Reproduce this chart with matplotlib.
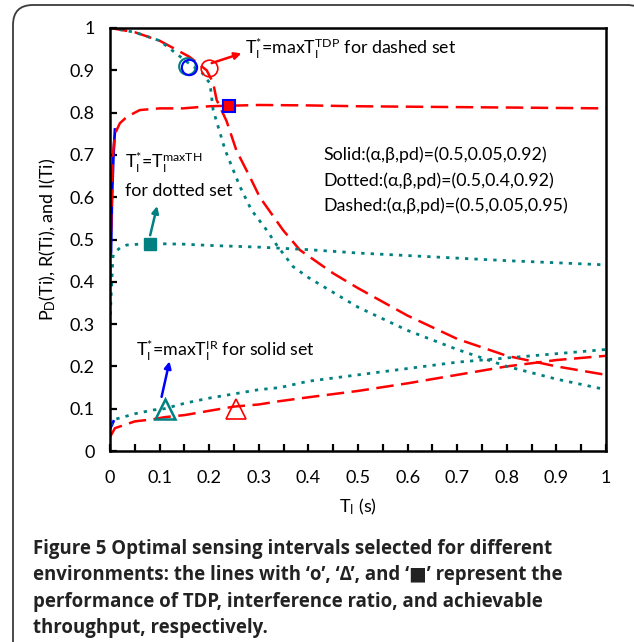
import numpy as np
import matplotlib
matplotlib.use("Agg")
import matplotlib.pyplot as plt
from matplotlib.path import Path
from matplotlib.patches import PathPatch

plt.rcParams["font.family"] = ["Lato", "DejaVu Sans"]
plt.rcParams["mathtext.fontset"] = "custom"
plt.rcParams["mathtext.rm"] = "Lato"
plt.rcParams["mathtext.it"] = "Lato"
plt.rcParams["mathtext.bf"] = "Lato:bold"

RED = "#ff0000"
TEAL = "#008080"
BLUE = "#0000ff"

# TDP curves, P_D(T_I)
t_tdp_dash = [0, 0.05, 0.1, 0.16, 0.195, 0.208, 0.215, 0.235, 0.255, 0.282, 0.302,
              0.349, 0.383, 0.45, 0.5, 0.6, 0.7, 0.8, 0.9, 1.0]
pd_tdp_dash = [1.0, 0.99, 0.97, 0.932, 0.90, 0.87, 0.83, 0.78, 0.71, 0.648, 0.60,
               0.522, 0.475, 0.42, 0.385, 0.32, 0.265, 0.225, 0.20, 0.18]
t_tdp_dot = [0, 0.05, 0.1, 0.155, 0.185, 0.2016, 0.208, 0.232, 0.262, 0.285, 0.316,
             0.336, 0.369, 0.4, 0.5, 0.6, 0.7, 0.8, 0.9, 1.0]
pd_tdp_dot = [1.0, 0.99, 0.97, 0.92, 0.895, 0.869, 0.806, 0.712, 0.625, 0.57, 0.522,
              0.487, 0.436, 0.41, 0.34, 0.285, 0.24, 0.20, 0.17, 0.145]

# throughput curves, R(T_I)
t_th = [0, 0.002, 0.006, 0.01, 0.02, 0.034, 0.06, 0.1, 0.147, 0.2, 0.3, 0.4, 0.5,
        0.6, 0.7, 0.8, 0.9, 1.0]
r_th_dash = [0.40, 0.52, 0.70, 0.75, 0.775, 0.79, 0.806, 0.81, 0.81, 0.815, 0.818,
             0.817, 0.815, 0.814, 0.813, 0.812, 0.811, 0.81]
r_th_dot = [0.30, 0.36, 0.46, 0.47, 0.48, 0.487, 0.489, 0.49, 0.489, 0.486, 0.482,
            0.476, 0.468, 0.462, 0.456, 0.45, 0.445, 0.44]
t_th_solid = [0.002, 0.004, 0.007, 0.01]
r_th_solid = [0.47, 0.60, 0.70, 0.76]

# interference ratio curves, I(T_I)
t_ir = [0, 0.01, 0.02, 0.05, 0.087, 0.11, 0.151, 0.2, 0.25, 0.3, 0.343, 0.4, 0.5,
        0.6, 0.7, 0.8, 0.9, 1.0]
i_ir_dash = [0.033, 0.054, 0.058, 0.07, 0.075, 0.08, 0.085, 0.095, 0.105, 0.11, 0.118,
             0.127, 0.142, 0.16, 0.18, 0.20, 0.215, 0.225]
i_ir_dot = [0.06, 0.075, 0.078, 0.088, 0.097, 0.10, 0.113, 0.125, 0.135, 0.145, 0.15,
            0.165, 0.18, 0.195, 0.21, 0.22, 0.23, 0.24]
t_ir_solid = [0.001, 0.004, 0.007]
i_ir_solid = [0.055, 0.062, 0.07]

# selected operating points
opt_tdp = {"solid": (0.16, 0.908), "dotted": (0.155, 0.91), "dashed": (0.2, 0.905)}
opt_th = {"solid": (0.24, 0.815), "dotted": (0.08, 0.49)}
opt_ir = {"dotted": (0.11, 0.10), "dashed": (0.255, 0.10)}

fig = plt.figure(figsize=(6.34, 6.42), dpi=100)
W, H = 634., 642.

# open frame: left edge, rounded top-left corner, top edge, top-right corner off the page
r = 0.2
x0, x1, y1 = 0.13, 6.47, 6.37
verts = [(x0, -0.2), (x0, y1 - r), (x0, y1), (x0 + r, y1),
         (x1 - r, y1), (x1, y1), (x1, y1 - r)]
codes = [Path.MOVETO, Path.LINETO, Path.CURVE3, Path.CURVE3,
         Path.LINETO, Path.CURVE3, Path.CURVE3]
fig.add_artist(PathPatch(Path(verts, codes), transform=fig.dpi_scale_trans,
                         facecolor="none", edgecolor="#3a3a3a", linewidth=1.3))

ax = fig.add_axes([110 / W, 191 / H, 496 / W, 423 / H])

dash = (0, (7, 3))
dot = (0, (1.2, 2.2))

ax.plot(t_th_solid, r_th_solid, color=BLUE, lw=2)
ax.plot(t_ir_solid, i_ir_solid, color=BLUE, lw=2)

ax.plot(t_tdp_dash, pd_tdp_dash, color=RED, lw=1.8, ls=dash)
ax.plot(t_th, r_th_dash, color=RED, lw=1.8, ls=dash)
ax.plot(t_ir, i_ir_dash, color=RED, lw=1.8, ls=dash)

ax.plot(t_tdp_dot, pd_tdp_dot, color=TEAL, lw=2, ls=dot)
ax.plot(t_th, r_th_dot, color=TEAL, lw=2, ls=dot)
ax.plot(t_ir, i_ir_dot, color=TEAL, lw=2, ls=dot)

# markers
ax.plot(*opt_tdp["dotted"], "o", ms=12, mfc="none", mec=TEAL, mew=1.5)
ax.plot(*opt_tdp["solid"], "o", ms=11, mfc="none", mec=BLUE, mew=1.5)
ax.plot(*opt_tdp["dashed"], "o", ms=12, mfc="none", mec=RED, mew=1.2)
ax.plot(*opt_th["solid"], "s", ms=9, mfc=RED, mec=BLUE, mew=1.5)
ax.plot(*opt_th["dotted"], "s", ms=9, mfc=TEAL, mec=TEAL)
ax.plot(*opt_ir["dotted"], "^", ms=14, mfc="none", mec=TEAL, mew=1.8)
ax.plot(*opt_ir["dashed"], "^", ms=14, mfc="none", mec=RED, mew=1.2)

# arrows
ax.annotate("", xy=(0.265, 0.94), xytext=(0.205, 0.917),
            arrowprops=dict(arrowstyle="-|>", color=RED, lw=1.8, mutation_scale=10,
                            shrinkA=0, shrinkB=0))
ax.annotate("", xy=(0.095, 0.579), xytext=(0.081, 0.51),
            arrowprops=dict(arrowstyle="-|>", color=TEAL, lw=1.8, mutation_scale=10,
                            shrinkA=0, shrinkB=0))
ax.annotate("", xy=(0.12, 0.212), xytext=(0.104, 0.128),
            arrowprops=dict(arrowstyle="-|>", color=BLUE, lw=1.8, mutation_scale=10,
                            shrinkA=0, shrinkB=0))

fs = 12.8
ax.text(0.272, 0.95, r"T$_\mathrm{I}^\mathrm{*}$=maxT$_\mathrm{I}^\mathrm{TDP}$ for dashed set",
        fontsize=fs, va="center")
ax.text(0.03, 0.682, r"T$_\mathrm{I}^\mathrm{*}$=T$_\mathrm{I}^\mathrm{maxTH}$",
        fontsize=fs, va="center")
ax.text(0.03, 0.615, "for dotted set", fontsize=fs, va="center")
ax.text(0.052, 0.238, r"T$_\mathrm{I}^\mathrm{*}$=maxT$_\mathrm{I}^\mathrm{IR}$ for solid set",
        fontsize=fs, va="center")

ax.text(0.43, 0.70, "Solid:(α,β,pd)=(0.5,0.05,0.92)", fontsize=fs, va="center")
ax.text(0.43, 0.638, "Dotted:(α,β,pd)=(0.5,0.4,0.92)", fontsize=fs, va="center")
ax.text(0.43, 0.579, "Dashed:(α,β,pd)=(0.5,0.05,0.95)", fontsize=fs, va="center")

ax.set_xlim(0, 1)
ax.set_ylim(0, 1)
ax.set_xticks(np.arange(0, 1.01, 0.1))
ax.set_xticks(np.arange(0.05, 1.0, 0.1), minor=True)
ax.set_yticks(np.arange(0, 1.01, 0.1))
ax.set_xticklabels(["0", "0.1", "0.2", "0.3", "0.4", "0.5", "0.6", "0.7", "0.8", "0.9", "1"])
ax.set_yticklabels(["0", "0.1", "0.2", "0.3", "0.4", "0.5", "0.6", "0.7", "0.8", "0.9", "1"])
ax.tick_params(axis="x", direction="in", length=5, width=1.6, labelsize=13, pad=14)
ax.tick_params(axis="y", direction="in", length=5, width=1.6, labelsize=13, pad=11)
ax.tick_params(which="minor", direction="in", length=5, width=1.6)
for s in ax.spines.values():
    s.set_linewidth(1.8)

ax.set_xlabel(r"T$_\mathrm{I}$ (s)", fontsize=13, labelpad=7)
ax.set_ylabel(r"P$_\mathrm{D}$(Ti), R(Ti), and I(Ti)", fontsize=13, labelpad=8)

caption = ("Figure 5 Optimal sensing intervals selected for different\n"
           "environments: the lines with \u2018o\u2019, \u2018\u0394\u2019, and \u2018\u25a0\u2019 represent the\n"
           "performance of TDP, interference ratio, and achievable\n"
           "throughput, respectively.")
fig.text(33 / W, 1 - 539 / H, caption, fontsize=13.4, fontweight="bold",
         family=["Open Sans", "DejaVu Sans"], color="#222222", va="top", ha="left",
         linespacing=1.42)

fig.savefig("out.png", dpi=100)
